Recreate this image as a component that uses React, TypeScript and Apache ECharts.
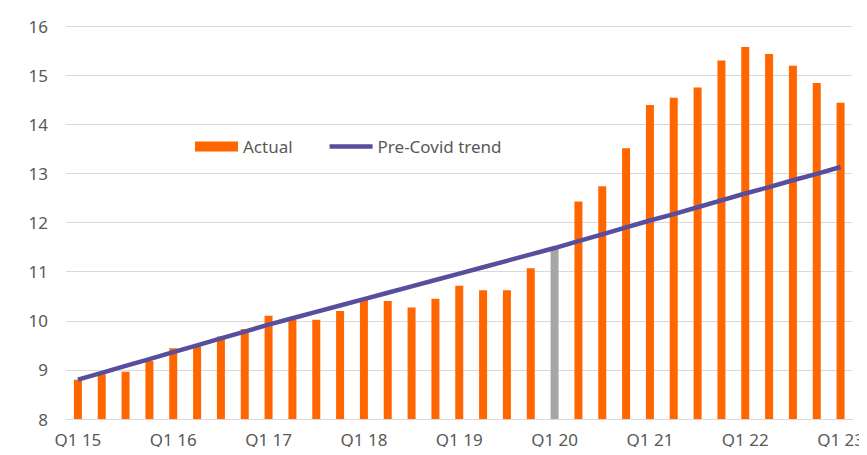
import React, { useEffect, useRef } from "react";
import * as echarts from "echarts";

const categories: string[] = [
  "Q1 15", "Q2 15", "Q3 15", "Q4 15",
  "Q1 16", "Q2 16", "Q3 16", "Q4 16",
  "Q1 17", "Q2 17", "Q3 17", "Q4 17",
  "Q1 18", "Q2 18", "Q3 18", "Q4 18",
  "Q1 19", "Q2 19", "Q3 19", "Q4 19",
  "Q1 20", "Q2 20", "Q3 20", "Q4 20",
  "Q1 21", "Q2 21", "Q3 21", "Q4 21",
  "Q1 22", "Q2 22", "Q3 22", "Q4 22",
  "Q1 23",
];

const actual: number[] = [
  8.80, 8.91, 8.96, 9.18,
  9.44, 9.47, 9.68, 9.83,
  10.10, 10.02, 10.02, 10.20,
  10.46, 10.40, 10.27, 10.45,
  10.71, 10.62, 10.62, 11.07,
  11.46, 12.43, 12.74, 13.51,
  14.39, 14.54, 14.75, 15.30,
  15.57, 15.43, 15.19, 14.84,
  14.44,
];

const preCovidTrend: number[] = [
  8.80, 8.94, 9.08, 9.22,
  9.36, 9.50, 9.64, 9.78,
  9.92, 10.05, 10.18, 10.31,
  10.44, 10.57, 10.70, 10.83,
  10.96, 11.09, 11.22, 11.35,
  11.48, 11.62, 11.76, 11.90,
  12.04, 12.17, 12.31, 12.45,
  12.59, 12.72, 12.86, 12.99,
  13.13,
];

const highlightedCategory = "Q1 20";

const ORANGE = "#ff6600";
const GREY = "#a6a6a6";
const PURPLE = "#574f9d";
const FONT = "Noto Sans";

export default function App() {
  const ref = useRef<HTMLDivElement>(null);

  useEffect(() => {
    if (!ref.current) return;
    const chart = echarts.init(ref.current, null, { renderer: "svg" });
    chart.setOption({
      animation: false,
      backgroundColor: "#ffffff",
      textStyle: { fontFamily: FONT },
      grid: { left: 66, right: 13, top: 26, bottom: 36, containLabel: false },
      legend: {
        left: 190,
        top: 133,
        itemWidth: 43,
        itemHeight: 10,
        itemGap: 37,
        textStyle: { fontFamily: FONT, fontSize: 17, color: "#595959" },
        data: [
          { name: "Actual", icon: "rect", itemStyle: { color: ORANGE } },
          {
            name: "Pre-Covid trend",
            icon: "path://M0,0H43V4.5H0Z",
            itemStyle: { color: PURPLE },
          },
        ],
      },
      xAxis: {
        type: "category",
        data: categories,
        boundaryGap: true,
        axisLine: { show: true, lineStyle: { color: "#d9d9d9", width: 1 } },
        axisTick: { show: false },
        axisLabel: {
          interval: 3,
          margin: 10,
          fontFamily: FONT,
          fontSize: 17,
          lineHeight: 20,
          color: "#595959",
        },
      },
      yAxis: {
        type: "value",
        min: 8,
        max: 16,
        interval: 1,
        axisLine: { show: false },
        axisTick: { show: false },
        splitLine: { lineStyle: { color: "#d9d9d9", width: 1 } },
        axisLabel: {
          margin: 18,
          fontFamily: FONT,
          fontSize: 17,
          color: "#595959",
        },
      },
      series: [
        {
          name: "Actual",
          type: "bar",
          barWidth: 8,
          data: actual.map((v, i) => ({
            value: v,
            itemStyle: { color: categories[i] === highlightedCategory ? GREY : ORANGE },
          })),
          itemStyle: { color: ORANGE },
        },
        {
          name: "Pre-Covid trend",
          type: "line",
          data: preCovidTrend,
          symbol: "none",
          showSymbol: false,
          lineStyle: { color: PURPLE, width: 4.5 },
          itemStyle: { color: PURPLE },
          z: 5,
        },
      ],
    });
    return () => chart.dispose();
  }, []);

  return <div ref={ref} style={{ width: 867, height: 455, margin: -8 }} />;
}
